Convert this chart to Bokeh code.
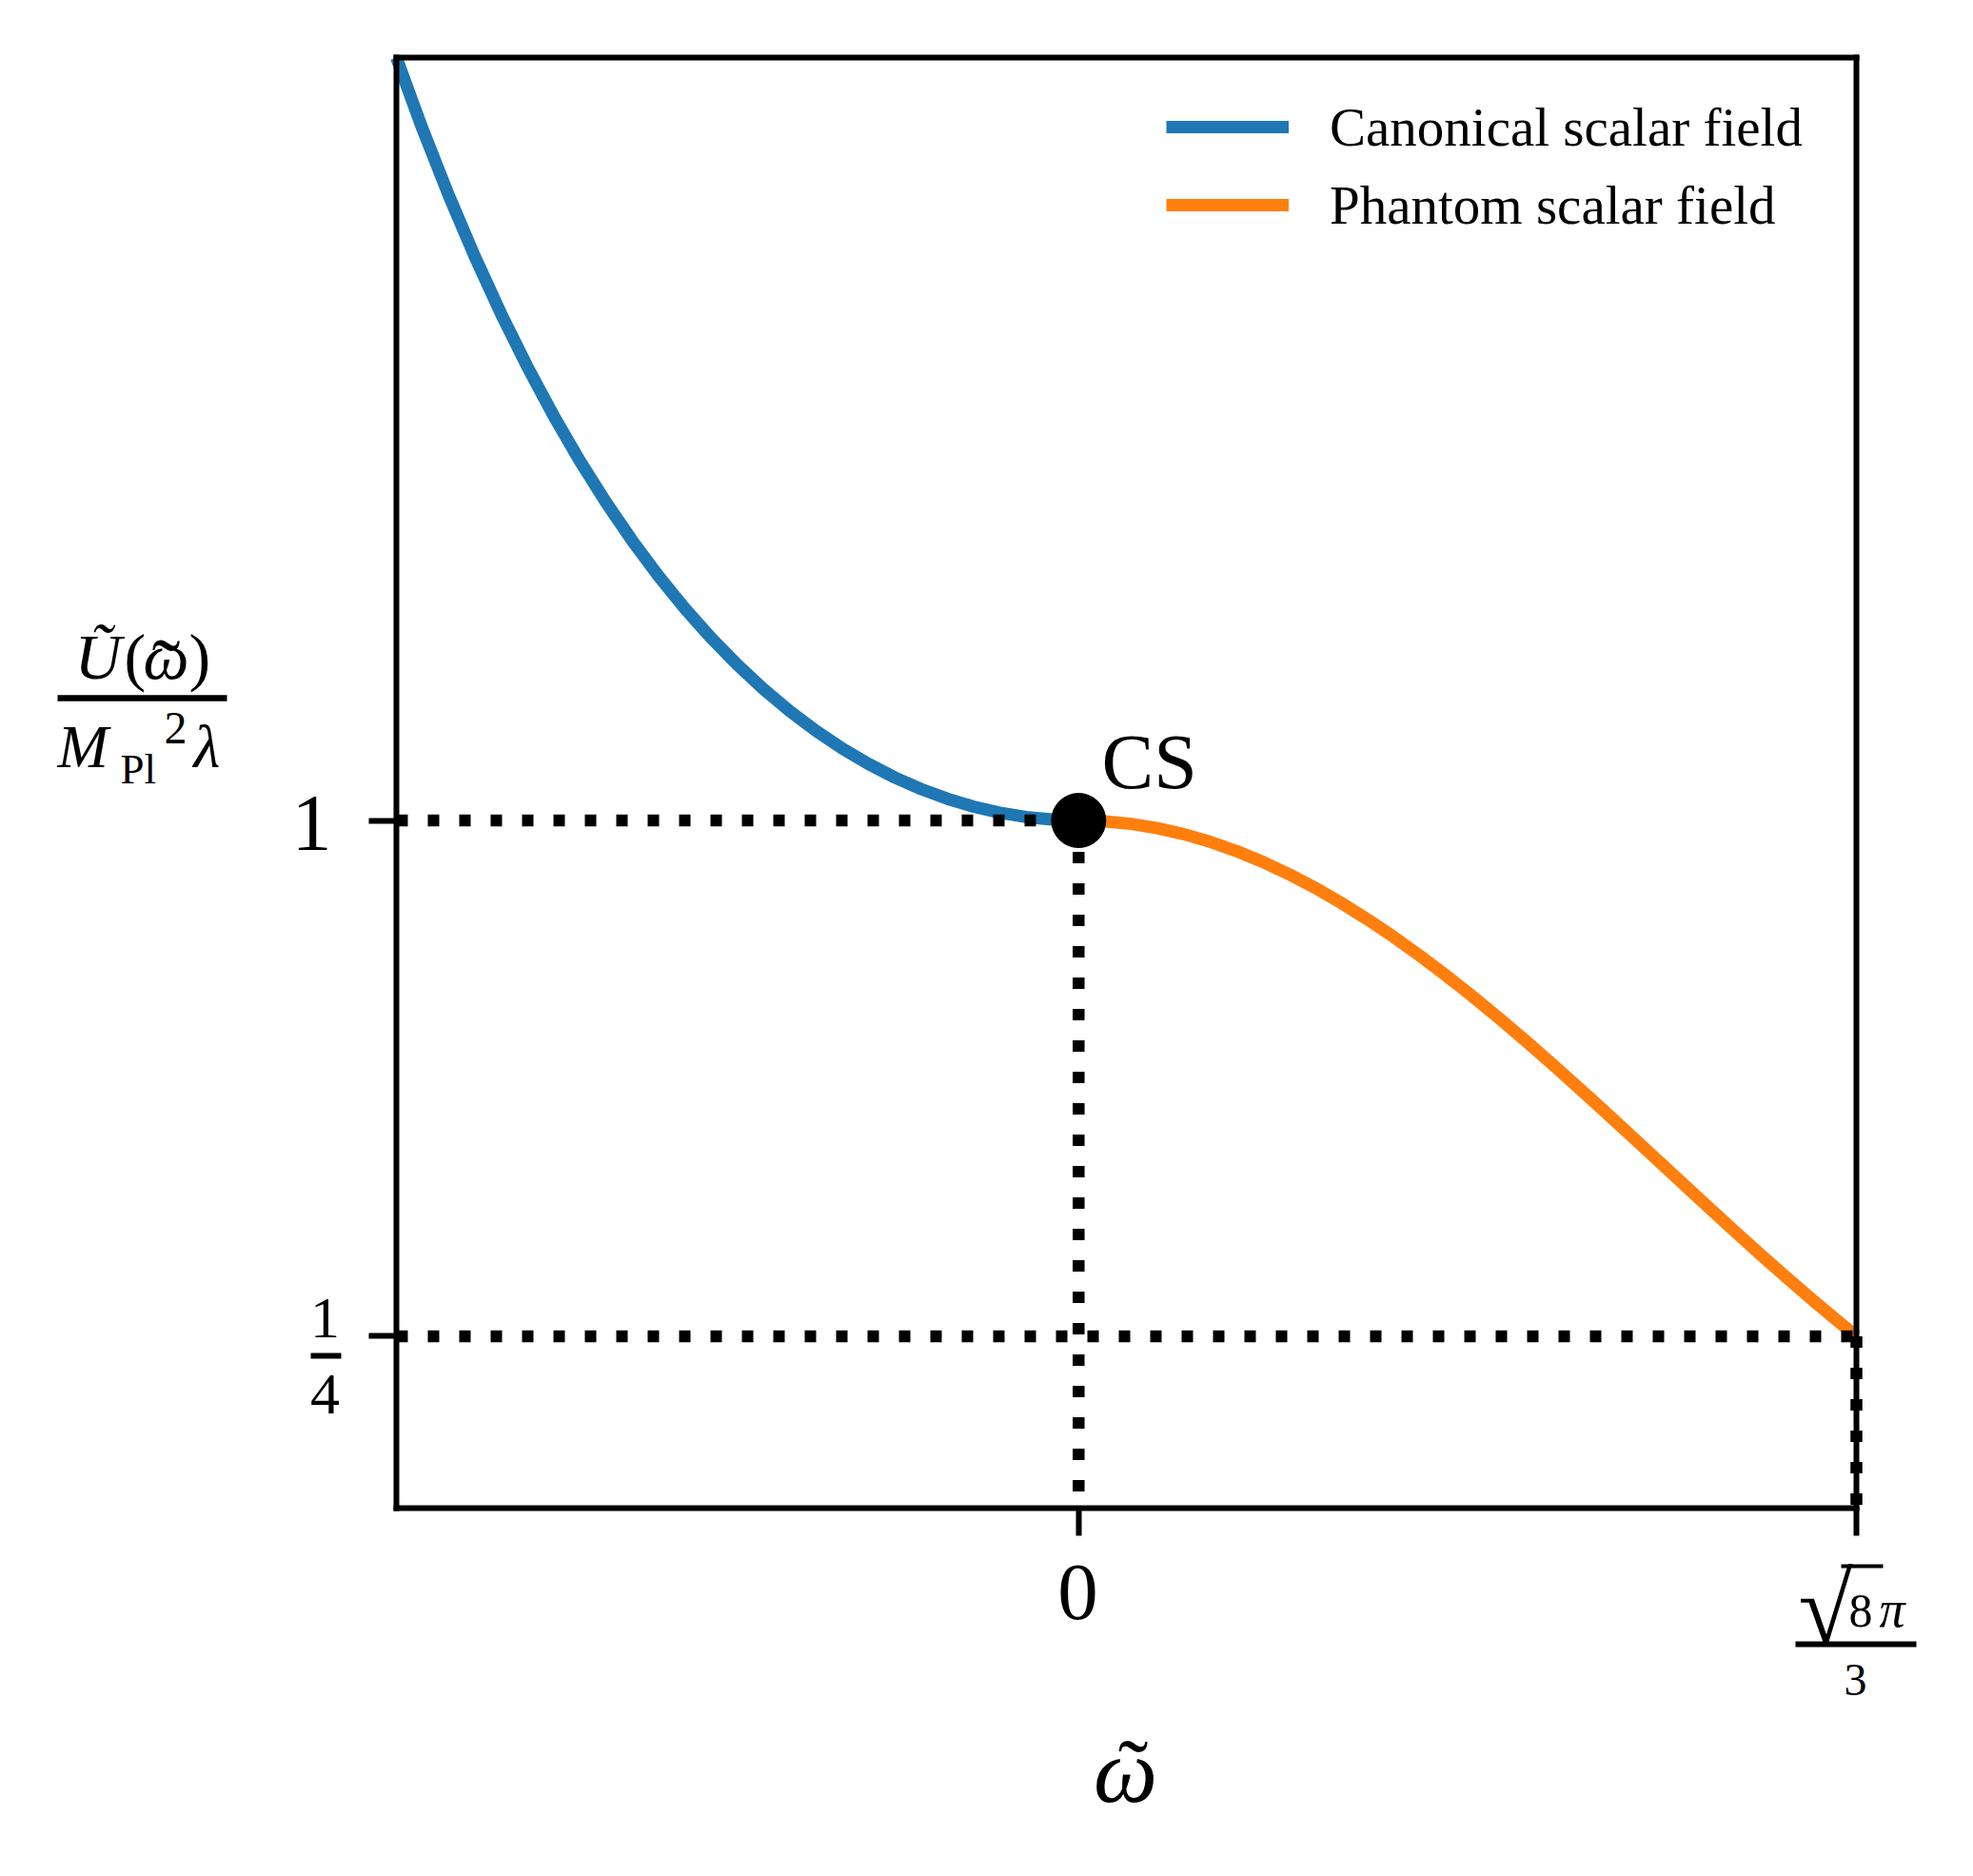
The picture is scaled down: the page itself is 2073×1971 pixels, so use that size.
from bokeh.plotting import figure
from bokeh.models import (Range1d, FixedTicker, Label, Arrow, Legend, LegendItem,
                          LinearAxis)
from bokeh.embed import file_html
from bokeh.resources import INLINE

# ---------------- data ----------------
omega_can = [-2.598, -2.5, -2.4, -2.3, -2.2, -2.1, -2.0, -1.9, -1.8, -1.7, -1.6,
             -1.5, -1.4, -1.3, -1.2, -1.1, -1.0, -0.9, -0.8, -0.7, -0.6, -0.5,
             -0.4, -0.3, -0.2, -0.1, 0.0]
U_can = [2.1094, 2.0071, 1.9103, 1.8205, 1.7373, 1.6603, 1.5891, 1.5233, 1.4627,
         1.4069, 1.3556, 1.3086, 1.2657, 1.2266, 1.1911, 1.1590, 1.1303, 1.1047,
         1.0822, 1.0625, 1.0457, 1.0316, 1.0201, 1.0113, 1.0050, 1.0013, 1.0]

omega_ph = [0.0, 0.1, 0.2, 0.3, 0.4, 0.5, 0.6, 0.7, 0.8, 0.9, 1.0, 1.1, 1.2, 1.3,
            1.4, 1.5, 1.6, 1.7, 1.8, 1.9, 2.0, 2.1, 2.2, 2.3, 2.4, 2.5, 2.6, 2.7,
            2.8, 2.9, 2.9619]
U_ph = [1.0, 0.99875, 0.99501, 0.98879, 0.98013, 0.96907, 0.95567, 0.93999,
        0.92211, 0.90212, 0.88012, 0.85622, 0.83054, 0.80321, 0.77437, 0.74415,
        0.71271, 0.68021, 0.64681, 0.61267, 0.57797, 0.54288, 0.50758, 0.47224,
        0.43704, 0.40215, 0.36775, 0.33401, 0.30111, 0.26919, 0.25]

cs_point = (0.0, 1.0)
x_ticks = [0.0, 2.9619]
y_ticks = [0.25, 1.0]
legend_labels = ["Canonical scalar field", "Phantom scalar field"]

XMIN, XMAX = omega_can[0], omega_ph[-1]
YMIN, YMAX = 0.0, U_can[0]

BLUE = "#1f77b4"
ORANGE = "#ff7f0e"
FONT = "Liberation Serif"

# layout (canvas pixels): plot box edges and canvas size
W, H = 2060, 1950
FL, FR, FT, FB = 416, 1950, 60, 1584
SX = (XMAX - XMIN) / (FR - FL)
SY = (YMAX - YMIN) / (FB - FT)


def dx(px):
    return XMIN + (px - FL) * SX


def dy(py):
    return YMIN + (FB - py) * SY


p = figure(width=W, height=H,
           x_range=Range1d(dx(0), dx(W)), y_range=Range1d(dy(H), dy(0)),
           output_backend="svg", toolbar_location=None,
           min_border=0)
p.xgrid.visible = False
p.ygrid.visible = False
p.outline_line_color = None
p.background_fill_color = "white"
p.border_fill_color = "white"

# axes forming the plot box (placed at the box edges)
left_axis = p.left[0]
bottom_axis = p.below[0]
bottom_axis.fixed_location = YMIN
left_axis.fixed_location = XMIN
bottom_axis.bounds = (XMIN, XMAX)
left_axis.bounds = (YMIN, YMAX)
bottom_axis.ticker = FixedTicker(ticks=x_ticks)
left_axis.ticker = FixedTicker(ticks=y_ticks)
bottom_axis.major_label_overrides = {t: "" for t in x_ticks}
left_axis.major_label_overrides = {t: "" for t in y_ticks}

top_axis = LinearAxis(fixed_location=YMAX, bounds=(XMIN, XMAX),
                      ticker=FixedTicker(ticks=[]))
right_axis = LinearAxis(fixed_location=XMAX, bounds=(YMIN, YMAX),
                        ticker=FixedTicker(ticks=[]))
p.add_layout(top_axis, "above")
p.add_layout(right_axis, "right")

for ax in (bottom_axis, left_axis, top_axis, right_axis):
    ax.axis_line_color = "black"
    ax.axis_line_width = 6
    ax.axis_line_cap = "square"
    ax.major_tick_out = 29
    ax.major_tick_in = 0
    ax.major_tick_line_width = 6
    ax.major_tick_line_color = "black"
    ax.minor_tick_line_color = None
    ax.major_label_text_font_size = "0px"

# curves
r_can = p.line(omega_can, U_can, line_color=BLUE, line_width=13, line_join="round")
r_ph = p.line(omega_ph, U_ph, line_color=ORANGE, line_width=13, line_join="round")

# dotted guide lines
dot = dict(line_color="black", line_width=12.5, line_dash="12 21")
p.line([XMIN, cs_point[0]], [cs_point[1], cs_point[1]], **dot)
p.line([XMIN, XMAX], [U_ph[-1], U_ph[-1]], **dot)
p.line([cs_point[0], cs_point[0]], [cs_point[1], YMIN], **dot)
p.line([XMAX, XMAX], [U_ph[-1], YMIN], **dot)

# CS point
p.scatter([cs_point[0]], [cs_point[1]], size=57, fill_color="black", line_color="black")

# legend (top right inside the box)
legend = Legend(items=[LegendItem(label=legend_labels[0], renderers=[r_can]),
                       LegendItem(label=legend_labels[1], renderers=[r_ph])],
                location="top_right", border_line_color=None,
                background_fill_alpha=0.0, glyph_width=129, glyph_height=70,
                label_height=70, label_width=565, spacing=12, label_standoff=43,
                padding=0, margin=98, label_text_font=FONT,
                label_text_font_size="57px", label_text_color="black")
p.add_layout(legend)

BASE_FIX = 0.33  # baseline correction (fraction of font size)


def label(text, px, py, size, align="center", style="normal"):
    p.add_layout(Label(x=dx(px), y=dy(py - BASE_FIX * size), text=text,
                       text_font=FONT, text_font_size=f"{size}px",
                       text_font_style=style, text_align=align,
                       text_baseline="alphabetic", text_color="black"))


def bar(x0, x1, py, lw=6):
    p.add_layout(Arrow(x_start=dx(x0), y_start=dy(py), x_end=dx(x1), y_end=dy(py),
                       end=None, line_width=lw, line_color="black"))


# tick labels
label("1", 327, 892, 84)
label("0", 1132, 1701, 85)
label("1", 341, 1405, 62)
label("4", 341, 1485, 62)
bar(326, 358, 1424)
label("\u221a", 1946, 1723, 104, align="right")
label("8", 1942, 1708, 50, align="left")
label("\u03c0", 1974, 1708, 54, align="left", style="italic")
bar(1934, 1978, 1645, lw=4)
bar(1886, 2013, 1727)
label("3", 1949, 1780, 48)

# annotation
label("CS", 1157, 827, 82, align="left")

# x axis label
label("\u03c9", 1182, 1892, 95, style="italic")
label("\u02dc", 1190, 1892, 95)

# y axis label (fraction)
label("\u0168", 78, 712, 68, align="left", style="italic")
label("(", 130, 712, 68, align="left")
label("\u03c9", 150, 712, 68, align="left", style="italic")
label(")", 198, 712, 68, align="left")
label("\u02dc", 174, 733, 90)
bar(60, 238, 733, lw=6.5)
label("M", 60, 805, 64, align="left", style="italic")
label("Pl", 126, 822, 45, align="left")
label("2", 172, 780, 48, align="left")
label("\u03bb", 203, 805, 64, align="left", style="italic")

open("out.html", "w").write(file_html(p, INLINE))
